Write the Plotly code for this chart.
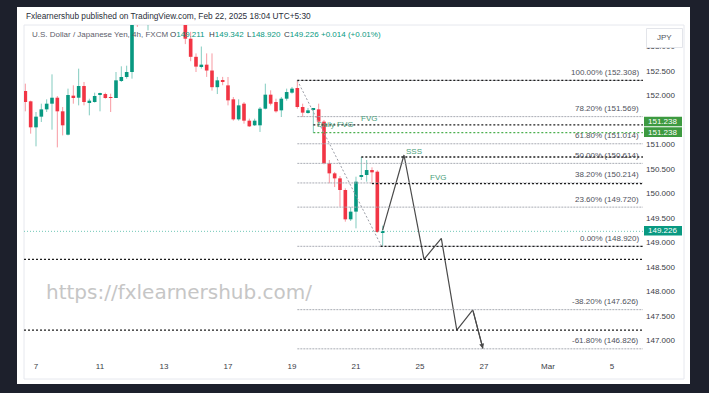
import plotly.graph_objects as go

# ---------------- data ----------------
bar_index = list(range(-2, 66))
opens = [152.092, 151.881, 151.350, 151.568, 151.717, 151.833, 151.955, 151.677, 151.200, 151.997,
         151.955, 152.194, 151.867, 151.867, 152.017, 152.030, 151.962, 151.949, 152.296, 152.378,
         152.480, 153.780, 153.600, 153.800, 154.200, 154.700, 154.450, 154.200, 154.050, 154.100,
         153.800, 153.160, 152.790, 152.590, 152.630, 152.510, 152.170, 152.310, 152.207, 151.922,
         151.513, 151.833, 151.486, 151.391, 151.391, 151.731, 152.017, 151.867, 151.697, 151.935,
         152.058, 152.153, 151.765, 151.663, 151.717, 151.717, 151.466, 150.615, 150.410, 150.308,
         150.070, 149.471, 149.628, 150.342, 150.376, 150.478, 150.444, 149.211]
highs = [152.242, 151.895, 151.663, 151.833, 151.922, 152.432, 151.990, 151.765, 152.140, 152.208,
         152.548, 152.276, 151.935, 152.058, 152.058, 152.058, 152.037, 152.480, 152.596, 152.609,
         153.900, 154.000, 153.950, 154.300, 154.800, 154.850, 154.600, 154.350, 154.250, 154.200,
         153.900, 153.300, 152.860, 153.000, 152.860, 152.860, 152.380, 152.380, 152.378, 151.969,
         151.922, 151.867, 151.527, 151.527, 151.765, 152.242, 152.106, 151.935, 151.969, 152.140,
         152.174, 152.308, 151.833, 151.745, 151.745, 151.833, 151.500, 150.683, 150.438, 150.356,
         150.104, 149.723, 150.342, 150.744, 150.683, 150.533, 150.472, 149.342]
lows = [151.677, 151.221, 150.962, 151.459, 151.663, 151.302, 150.941, 151.186, 151.186, 151.833,
        151.799, 151.799, 151.595, 151.854, 151.677, 151.935, 151.663, 151.949, 152.276, 152.344,
        152.344, 153.400, 153.500, 153.330, 154.050, 154.400, 154.100, 153.950, 153.850, 153.700,
        153.050, 152.700, 152.480, 152.550, 152.380, 152.100, 152.030, 152.210, 151.799, 151.486,
        151.486, 151.425, 151.357, 151.377, 151.255, 151.717, 151.799, 151.650, 151.561, 151.895,
        152.037, 151.731, 151.561, 151.629, 151.238, 151.440, 150.594, 150.206, 150.131, 149.730,
        149.423, 149.437, 149.287, 150.274, 150.240, 150.193, 149.200, 148.920]
closes = [151.867, 151.350, 151.568, 151.717, 151.833, 151.955, 151.677, 151.391, 152.010, 151.949,
          152.194, 151.867, 151.895, 151.990, 152.037, 151.949, 151.949, 152.310, 152.378, 152.480,
          153.780, 153.600, 153.850, 154.200, 154.700, 154.450, 154.200, 154.050, 154.100, 153.800,
          153.160, 152.790, 152.590, 152.630, 152.510, 152.170, 152.310, 152.290, 151.901, 151.513,
          151.799, 151.486, 151.370, 151.486, 151.731, 152.017, 151.833, 151.677, 151.935, 152.071,
          152.140, 151.765, 151.650, 151.697, 151.738, 151.466, 150.615, 150.410, 150.308, 150.070,
          149.471, 149.628, 150.240, 150.376, 150.478, 150.431, 149.211, 149.226]

day_labels = ["7", "11", "13", "17", "19", "21", "25", "27", "Mar", "5"]
day_positions = [0, 12, 24, 36, 48, 60, 72, 84, 96, 108]

# 151.500 is hidden behind the price tags in the reference
price_ticks = [147.0, 147.5, 148.0, 148.5, 149.0, 149.5, 150.0, 150.5, 151.0, 152.0, 152.5, 153.0]

fib_names = ["100.00%", "78.20%", "61.80%", "50.00%", "38.20%", "23.60%", "0.00%", "-38.20%", "-61.80%"]
fib_prices = [152.308, 151.569, 151.014, 150.614, 150.214, 149.720, 148.920, 147.626, 146.826]
fib_start = 49
fib_end = 113.8
diag_idx = [49, 64.8]
diag_price = [152.308, 148.920]

ray_prices = [152.308, 151.400, 150.744, 150.200, 148.920, 148.654, 147.210]
ray_starts = [49, 52, 61, 63, 64.6, -2.25, -2.25]
green_ray_price = 151.240
green_ray_start = 52
last_price = 149.226

proj_idx = [65, 69, 72.75, 76, 78.9, 81.9, 83.8]
proj_price = [149.25, 150.785, 148.654, 149.083, 147.21, 147.62, 146.83]

notes_text = ["Daily FVG", "FVG", "SSS", "FVG"]
notes_idx = [52.3, 62.4, 70.9, 75.4]
notes_price = [151.40, 151.54, 150.866, 150.32]
notes_anchor = ["left", "center", "center", "center"]

axis_tags = ["151.238", "151.238", "149.226"]
axis_tag_colors = ["#3d9a40", "#3d9a40", "#089981"]

header1 = "Fxlearnershub published on TradingView.com, Feb 22, 2025 18:04 UTC+5:30"
symbol_text = "U.S. Dollar / Japanese Yen, 4h, FXCM"
ohlc_letters = ["O", "H", "L", "C"]
ohlc_values = ["149.211", "149.342", "148.920", "149.226"]
change_text = "+0.014 (+0.01%)"
watermark = "https://fxlearnershub.com/"

# ---------------- geometry ----------------
W, H = 709, 393
PL, PR, PT, PB = 24, 645, 25, 360  # plot area in pixels
XR = [-2.25, 114.19]
YR = [146.598, 153.44]


def px(xp):
    return (xp - PL) / (PR - PL)


def py(yp):
    return (PB - yp) / (PB - PT)


UP = "#089981"
DN = "#f23645"
UP_W = "rgba(8,153,129,0.5)"
DN_W = "rgba(242,54,69,0.5)"
FONT = "Liberation Sans"

fig = go.Figure()

# wicks
for up, col in [(True, UP_W), (False, DN_W)]:
    wx, wy = [], []
    for i, o, h, l, c in zip(bar_index, opens, highs, lows, closes):
        if (c >= o) == up:
            wx += [i, i, None]
            wy += [l, h, None]
    fig.add_trace(go.Scatter(x=wx, y=wy, mode="lines", line=dict(color=col, width=1),
                             hoverinfo="skip", showlegend=False))

# bodies
base = [min(o, c) for o, c in zip(opens, closes)]
height = [max(abs(c - o), 0.02) for o, c in zip(opens, closes)]
colors = [UP if c >= o else DN for o, c in zip(opens, closes)]
fig.add_trace(go.Bar(x=bar_index, y=height, base=base, width=0.68,
                     marker=dict(color=colors, line=dict(width=0)), showlegend=False))

# diagonal fib trend line
fig.add_trace(go.Scatter(x=diag_idx, y=diag_price, mode="lines",
                         line=dict(color="#9a9da6", width=1, dash="2px,2px"), showlegend=False))

# projection zigzag
fig.add_trace(go.Scatter(x=proj_idx, y=proj_price, mode="lines",
                         line=dict(color="#4a4a4a", width=1.2), showlegend=False))

shapes = []
# card and panel
shapes.append(dict(type="rect", xref="paper", yref="paper", x0=px(17), x1=px(690), y0=py(384), y1=py(7),
                   fillcolor="white", line=dict(width=0), layer="below"))
shapes.append(dict(type="rect", xref="paper", yref="paper", x0=px(24), x1=px(684), y0=py(379), y1=py(25),
                   fillcolor="rgba(0,0,0,0)", line=dict(color="#e6e8ee", width=1), layer="below"))

# fib levels
for p in fib_prices:
    shapes.append(dict(type="line", xref="x", yref="y", x0=fib_start, x1=fib_end, y0=p, y1=p,
                       line=dict(color="#a9acb4", width=1, dash="2px,1px")))
# black dotted rays
for p, s in zip(ray_prices, ray_starts):
    shapes.append(dict(type="line", xref="x", yref="y", x0=s, x1=fib_end, y0=p, y1=p,
                       line=dict(color="#1e1e1e", width=1.3, dash="2px,2px")))
# green dotted ray
shapes.append(dict(type="line", xref="x", yref="y", x0=green_ray_start, x1=fib_end, y0=green_ray_price,
                   y1=green_ray_price, line=dict(color="#4caf50", width=1.2, dash="2px,2px")))
# last price line
shapes.append(dict(type="line", xref="x", yref="y", x0=XR[0], x1=XR[1], y0=last_price, y1=last_price,
                   line=dict(color="#6fc7b6", width=1, dash="1px,2px")))

# axis tags
tag_boxes = [(116.7, 126.3), (127.3, 136.9), (226.0, 235.6)]
for (t0, t1), col in zip(tag_boxes, axis_tag_colors):
    shapes.append(dict(type="rect", xref="paper", yref="paper", x0=px(644), x1=px(682), y0=py(t1), y1=py(t0),
                       fillcolor=col, line=dict(width=0), layer="above"))
# JPY box
shapes.append(dict(type="rect", xref="paper", yref="paper", x0=px(646.5), x1=px(682.5), y0=py(47.5), y1=py(28.5),
                   fillcolor="white", line=dict(color="#e3e5ea", width=1), layer="above"))

ann = []
# fib labels
for n, p in zip(fib_names, fib_prices):
    ann.append(dict(x=fib_end - 0.4, y=p, xref="x", yref="y", text=f"{n} ({p:.3f})", showarrow=False,
                    xanchor="right", yanchor="middle", yshift=8,
                    font=dict(family=FONT, size=8, color="#4f525c")))
# chart notes
for t, xi, pr, a in zip(notes_text, notes_idx, notes_price, notes_anchor):
    ann.append(dict(x=xi, y=pr, xref="x", yref="y", text=t, showarrow=False, xanchor=a, yanchor="middle",
                    font=dict(family=FONT, size=8, color="#4a9e7a")))
# arrow head for projection
ann.append(dict(x=proj_idx[-1], y=proj_price[-1], ax=proj_idx[-2], ay=proj_price[-2], xref="x", yref="y",
                axref="x", ayref="y", text="", showarrow=True, arrowhead=2, arrowsize=0.9, arrowwidth=1.1,
                arrowcolor="#4a4a4a"))
# axis tag texts
for (t0, t1), t in zip(tag_boxes, axis_tags):
    ann.append(dict(x=px(663), y=py((t0 + t1) / 2), xref="paper", yref="paper", text=t, showarrow=False,
                    xanchor="center", yanchor="middle", font=dict(family=FONT, size=8, color="white")))
ann.append(dict(x=px(664.5), y=py(37), xref="paper", yref="paper", text="JPY", showarrow=False,
                xanchor="center", yanchor="middle", font=dict(family=FONT, size=8, color="#50535e")))
# header
ann.append(dict(x=px(24), y=py(16.5), xref="paper", yref="paper", text=header1, showarrow=False,
                xanchor="left", yanchor="middle", font=dict(family=FONT, size=8.3, color="#2a2e39")))
ann.append(dict(x=px(30), y=py(34.5), xref="paper", yref="paper", text=symbol_text, showarrow=False,
                xanchor="left", yanchor="middle", font=dict(family=FONT, size=8, color="#5d606b")))
ohlc_x = [168, 207, 245, 282]
for xx, l, v in zip(ohlc_x, ohlc_letters, ohlc_values):
    ann.append(dict(x=px(xx), y=py(34.5), xref="paper", yref="paper",
                    text=f"<span style='color:#3a3d46'>{l}</span>{v}", showarrow=False,
                    xanchor="left", yanchor="middle", font=dict(family=FONT, size=8, color=UP)))
ann.append(dict(x=px(319), y=py(34.5), xref="paper", yref="paper", text=change_text, showarrow=False,
                xanchor="left", yanchor="middle", font=dict(family=FONT, size=8, color=UP)))
# watermark
ann.append(dict(x=px(44), y=py(292), xref="paper", yref="paper", text=watermark, showarrow=False,
                xanchor="left", yanchor="middle", font=dict(family="DejaVu Sans", size=20, color="#c6c6c6")))

fig.update_layout(
    width=W, height=H,
    margin=dict(l=PL, r=W - PR, t=PT, b=H - PB, pad=0),
    paper_bgcolor="#1d202c",
    plot_bgcolor="rgba(0,0,0,0)",
    barmode="overlay",
    showlegend=False,
    shapes=shapes,
    annotations=ann,
    xaxis=dict(range=XR, tickvals=day_positions, ticktext=day_labels, showgrid=False, zeroline=False,
               showline=False, ticks="", tickfont=dict(family=FONT, size=8, color="#3a3d46"), fixedrange=True),
    yaxis=dict(range=YR, side="right", tickvals=price_ticks, tickformat=".3f", showgrid=False, zeroline=False,
               showline=False, ticks="", tickfont=dict(family=FONT, size=8, color="#3a3d46"), fixedrange=True),
)

fig.write_html("out.html")
